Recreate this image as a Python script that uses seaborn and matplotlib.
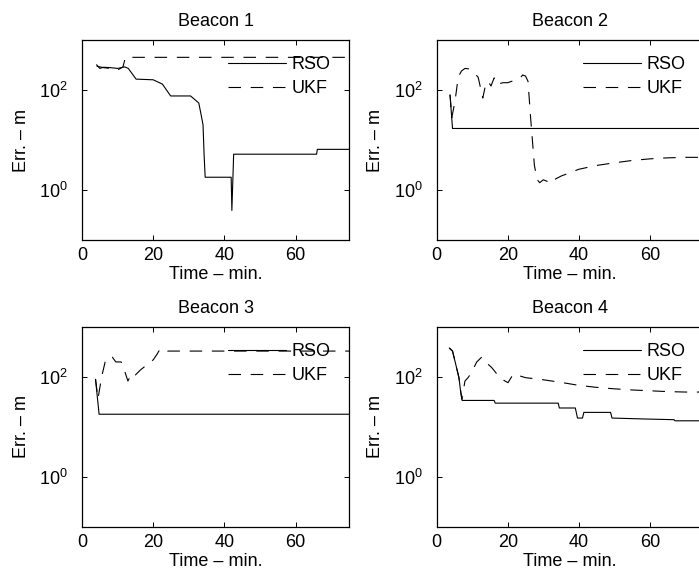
import matplotlib
matplotlib.use("Agg")
import matplotlib.pyplot as plt
import seaborn as sns
import numpy as np

# ---------------- data ----------------
titles = ["Beacon 1", "Beacon 2", "Beacon 3", "Beacon 4"]
series_labels = ["RSO", "UKF"]

b1_rso_t = [4.1, 5.0, 6.0, 8.0, 10.0, 12.0, 13.0, 15.2, 20.0, 22.6, 24.9, 30.5, 32.8, 33.5, 34.0, 34.3, 34.6, 41.9, 42.1, 42.6, 65.9, 66.1, 75.0]
b1_rso_v = [320, 270, 285, 280, 270, 290, 270, 165, 160, 131, 76, 76, 55, 31, 20, 5, 1.8, 1.8, 0.39, 5.2, 5.2, 6.5, 6.5]
b1_ukf_t = [4.1, 6.0, 8.0, 10.0, 11.5, 12.2, 75.0]
b1_ukf_v = [300, 280, 270, 250, 290, 450, 450]

b2_rso_t = [3.8, 4.5, 75.0]
b2_rso_v = [80, 17, 17]
b2_ukf_t = [3.8, 4.3, 5.2, 6.1, 7.0, 8.0, 9.0, 10.3, 11.7, 12.3, 13.0, 13.6, 14.5, 15.3, 16.2, 17.0, 18.7, 20.0, 21.2, 23.4, 24.2, 25.0, 25.7, 26.4, 27.5, 28.3, 29.0, 30.0, 31.0, 31.5, 33.0, 35.0, 40.0, 45.0, 50.0, 55.0, 60.0, 65.0, 70.0, 75.0]
b2_ukf_v = [80, 28, 60, 180, 240, 270, 265, 230, 180, 116, 69, 110, 150, 120, 175, 130, 140, 140, 150, 170, 200, 190, 150, 30, 3.1, 1.6, 1.4, 1.6, 1.5, 1.35, 1.6, 1.9, 2.6, 3.1, 3.5, 3.9, 4.2, 4.4, 4.5, 4.5]

b3_rso_t = [3.8, 4.8, 75.0]
b3_rso_v = [90, 18, 18]
b3_ukf_t = [3.8, 4.5, 5.5, 6.5, 7.8, 8.5, 9.5, 11.0, 12.0, 12.9, 14.0, 15.0, 16.5, 18.0, 20.0, 21.0, 22.0, 24.0, 75.0]
b3_ukf_v = [90, 37, 100, 200, 260, 250, 200, 200, 130, 83, 120, 110, 140, 170, 220, 280, 370, 330, 330]

b4_rso_t = [3.6, 4.5, 5.4, 6.3, 6.8, 7.2, 16.2, 16.5, 34.2, 34.5, 39.0, 39.6, 41.0, 41.4, 48.9, 49.3, 57.8, 66.7, 67.0, 75.0]
b4_rso_v = [380, 330, 180, 97, 50, 34, 34, 30, 30, 24, 24, 15.1, 15.1, 19.6, 19.6, 15.1, 14.5, 14.0, 13.3, 13.3]
b4_ukf_t = [3.6, 4.5, 5.4, 6.3, 7.1, 8.0, 9.0, 10.0, 11.3, 12.7, 13.5, 14.1, 15.5, 17.4, 19.0, 20.1, 21.5, 22.5, 25.0, 30.0, 35.0, 40.0, 45.0, 50.0, 55.0, 60.0, 65.0, 70.0, 75.0]
b4_ukf_v = [380, 330, 180, 97, 36, 83, 100, 130, 200, 250, 220, 190, 155, 105, 85, 77, 113, 110, 97, 88, 78, 68, 62, 58, 55, 53, 51, 50, 50]

x_ticks = [0, 20, 40, 60]
y_ticks = [1, 100]

panels = [
    (b1_rso_t, b1_rso_v, b1_ukf_t, b1_ukf_v),
    (b2_rso_t, b2_rso_v, b2_ukf_t, b2_ukf_v),
    (b3_rso_t, b3_rso_v, b3_ukf_t, b3_ukf_v),
    (b4_rso_t, b4_rso_v, b4_ukf_t, b4_ukf_v),
]

# ---------------- style ----------------
sns.set_theme(style="white")
plt.rcParams["font.family"] = ["Liberation Sans", "DejaVu Sans"]
plt.rcParams["mathtext.default"] = "regular"
plt.rcParams["lines.scale_dashes"] = False
FS = 13

fig = plt.figure(figsize=(6.99, 5.80), dpi=100)
W, H = 699.0, 580.0
# axes rectangles in pixels: left, top, width, height
rects = [(82, 40, 267, 200), (436.5, 40, 267, 200),
         (82, 327, 267, 200), (436.5, 327, 267, 200)]

for i, ((rt, rv, ut, uv), (l, t, w, h)) in enumerate(zip(panels, rects)):
    ax = fig.add_axes([l / W, 1 - (t + h) / H, w / W, h / H])
    sns.lineplot(x=rt, y=rv, ax=ax, color="black", lw=0.8,
                 estimator=None, sort=False, label=series_labels[0])
    sns.lineplot(x=ut, y=uv, ax=ax, color="black", lw=0.8,
                 estimator=None, sort=False, label=series_labels[1],
                 linestyle=(0, (9, 7)))
    ax.set_yscale("log")
    ax.set_xlim(0, 75)
    ax.set_ylim(0.1, 1000)
    ax.set_xticks(x_ticks)
    ax.set_yticks(y_ticks)
    ax.yaxis.set_minor_locator(matplotlib.ticker.NullLocator())
    ax.tick_params(axis="both", which="both", direction="in", length=3.5,
                   width=0.7, colors="black", labelsize=FS,
                   top=True, right=True, bottom=True, left=True)
    ax.tick_params(axis="x", pad=5)
    ax.tick_params(axis="y", pad=10)
    for s in ax.spines.values():
        s.set_visible(True)
        s.set_color("black")
        s.set_linewidth(0.9)
    ax.set_title(titles[i], fontsize=FS, pad=10, color="black")
    ax.set_xlabel("Time – min.", fontsize=FS, labelpad=1.5, color="black")
    ax.set_ylabel("Err. – m", fontsize=FS, labelpad=7, color="black")
    leg = ax.legend(loc="upper right", frameon=False, fontsize=FS,
                    handlelength=3.2, handletextpad=0.3, labelspacing=0.4,
                    borderaxespad=0.2,
                    bbox_to_anchor=((349 - 82 - 8) / 267.0 if i % 2 == 0 else (696 - 436.5) / 267.0, 0.975))
    for txt in leg.get_texts():
        txt.set_color("black")

fig.savefig("out.png", dpi=100, facecolor="white")
